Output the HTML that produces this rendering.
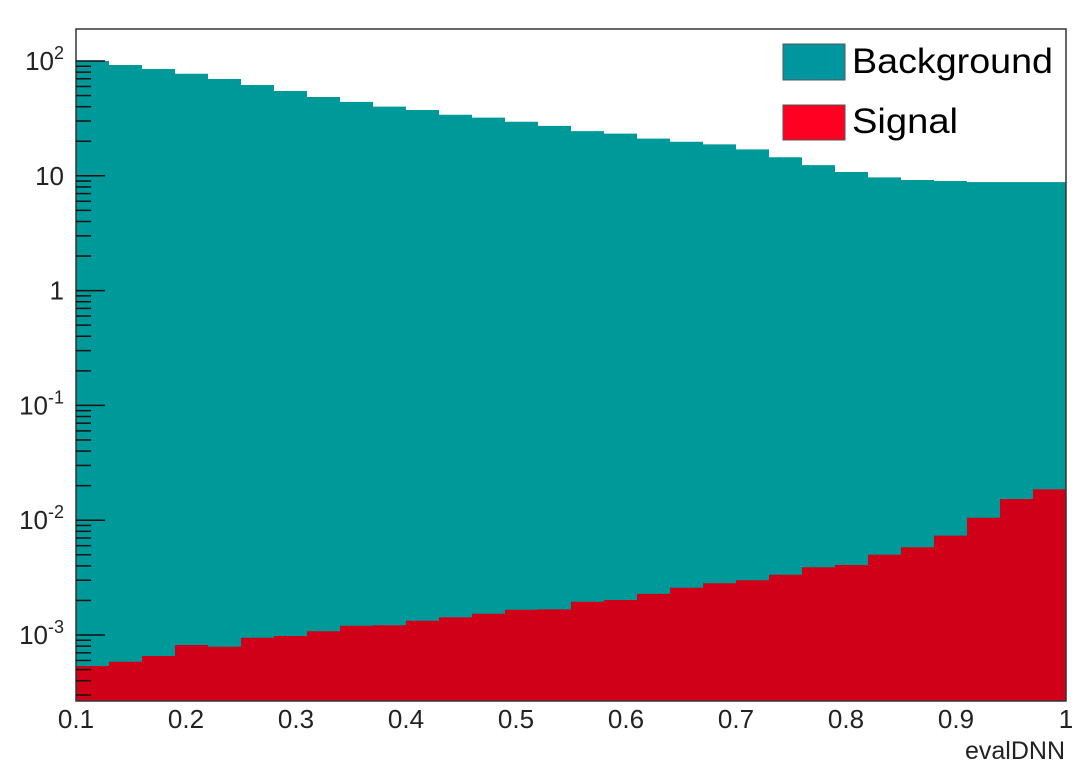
<!DOCTYPE html>
<html><head><meta charset="utf-8"><style>
html,body{margin:0;padding:0;background:#fff;}
svg{display:block;font-family:"Liberation Sans",sans-serif;}
</style></head><body>
<svg id="chart" width="1088" height="769" viewBox="0 0 1088 769" xmlns="http://www.w3.org/2000/svg">
<g id="bars"></g>
<g id="axes"></g>
<g>
  <rect x="783" y="44" width="62" height="36" fill="#00969f" stroke="#555" stroke-width="1"/>
  <text x="852" y="73" font-size="35" textLength="201" lengthAdjust="spacingAndGlyphs" fill="#000">Background</text>
  <rect x="783" y="105" width="62" height="35" fill="#ff0022" stroke="#555" stroke-width="1"/>
  <text x="852" y="133" font-size="35" textLength="106" lengthAdjust="spacingAndGlyphs" fill="#000">Signal</text>
</g>
<text x="1065" y="759" font-size="25" text-anchor="end" fill="#222">evalDNN</text>
</svg>
<script>
const binEdgesStart = 0.1;
const binWidth = 0.03;
const background = [100,92.3,85.2,77.5,69.7,61.8,54.8,48.6,44.0,40.0,37.4,34.0,32.1,29.6,27.2,24.5,23.3,21.1,19.8,18.8,17.0,14.5,12.4,10.8,9.7,9.2,9.0,8.8,8.8,8.8];
const signal = [5.37e-4,5.85e-4,6.56e-4,8.18e-4,7.91e-4,9.47e-4,9.80e-4,1.077e-3,1.205e-3,1.215e-3,1.332e-3,1.426e-3,1.532e-3,1.66e-3,1.67e-3,1.95e-3,2.02e-3,2.28e-3,2.58e-3,2.82e-3,3.00e-3,3.35e-3,3.89e-3,4.07e-3,5.00e-3,5.81e-3,7.33e-3,1.05e-2,1.53e-2,1.86e-2];
const xTicks = [0.1,0.2,0.3,0.4,0.5,0.6,0.7,0.8,0.9,1];
const xTickLabels = ["0.1","0.2","0.3","0.4","0.5","0.6","0.7","0.8","0.9","1"];
const yDecades = [2,1,0,-1,-2,-3];
const yDecadeLabels = ["10^2","10","1","10^-1","10^-2","10^-3"];

const NS = "http://www.w3.org/2000/svg";
const L=76, R=1066, T=29, B=701;
const xMin=0.1, xMax=1.0;
const yLogMin = -3 - (B-635)/114.8, yLogMax = 2 + (61-T)/114.8;
function xs(v){return L+(v-xMin)/(xMax-xMin)*(R-L);}
function ys(v){return B-(Math.log10(v)-yLogMin)/(yLogMax-yLogMin)*(B-T);}
function mk(tag,attrs,parent){const e=document.createElementNS(NS,tag);for(const k in attrs)e.setAttribute(k,attrs[k]);parent.appendChild(e);return e;}

const bars=document.getElementById('bars');
function drawHist(vals,fill,name){
  let d="M"+xs(binEdgesStart)+","+B;
  vals.forEach((v,i)=>{
    const x0=xs(binEdgesStart+i*binWidth), x1=xs(binEdgesStart+(i+1)*binWidth), y=ys(v);
    d+=" L"+x0+","+y+" L"+x1+","+y;
  });
  d+=" L"+xs(binEdgesStart+vals.length*binWidth)+","+B+" Z";
  const p=mk('path',{d:d,fill:fill,stroke:'none'},bars);
  
  
}
drawHist(background,'#009999','background-histogram');
drawHist(signal,'#d10019','signal-histogram');

const axes=document.getElementById('axes');
const frame=mk('rect',{x:L,y:T,width:R-L,height:B-T,fill:'none',stroke:'#333','stroke-width':1.5},axes);



yDecades.forEach((dec,i)=>{
  const y=ys(Math.pow(10,dec));
  const t=mk('line',{x1:L,x2:L+29,y1:y,y2:y,stroke:'#111','stroke-width':1.5},axes);
  
  
  const lab=yDecadeLabels[i];
  const tx=mk('text',{x:L-12,y:y+9,'font-size':26,'text-anchor':'end',fill:'#222'},axes);
  
  
  if(lab.indexOf('^')>=0){
    const parts=lab.split('^');
    const b=document.createElementNS(NS,'tspan');b.textContent=parts[0];tx.appendChild(b);
    const s=document.createElementNS(NS,'tspan');s.setAttribute('dy','-11');s.setAttribute('font-size','18');s.textContent=parts[1];tx.appendChild(s);
  } else tx.textContent=lab;
  for(let m=2;m<=9;m++){
    const v=m*Math.pow(10,dec-1);
    const ym=ys(v);
    if(ym<T||ym>B) continue;
    const mt=mk('line',{x1:L,x2:L+15,y1:ym,y2:ym,stroke:'#111','stroke-width':1.5},axes);
    
    
  }
});
for(let m=2;m<=9;m++){
  const ym=ys(m*100);
  if(ym<T) continue;
  const mt=mk('line',{x1:L,x2:L+15,y1:ym,y2:ym,stroke:'#111','stroke-width':1.5},axes);
  
  
}
xTicks.forEach((v,i)=>{
  const tx=mk('text',{x:xs(v),y:728,'font-size':26,'text-anchor':'middle',fill:'#222'},axes);
  tx.textContent=xTickLabels[i];
  
  
});
</script>
</body></html>
